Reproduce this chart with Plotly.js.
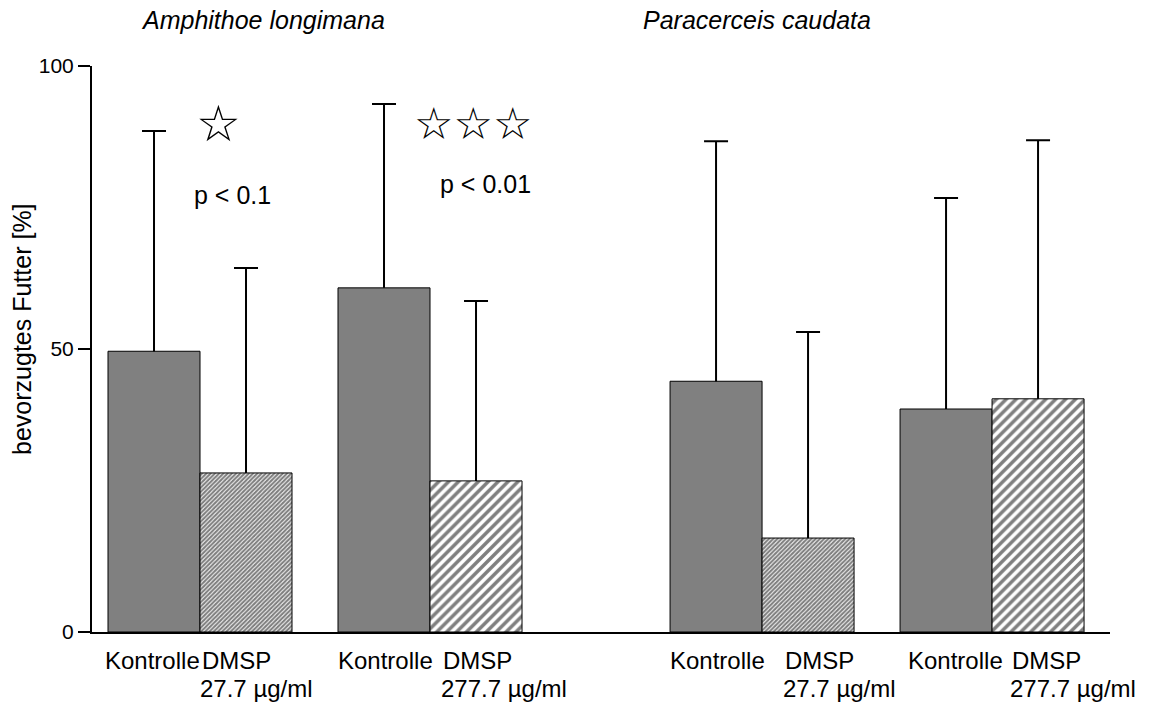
<!DOCTYPE html>
<html><head><meta charset="utf-8">
<script src="https://cdn.plot.ly/plotly-3.0.1.min.js"></script>
<style>body{margin:0;background:#fff}</style>
</head><body><div id="chart" style="width:1160px;height:704px"></div>
<script>
// ---- data ----
const species = ['Amphithoe longimana', 'Paracerceis caudata'];
const controlLabel = 'Kontrolle';
const treatmentLabel = 'DMSP';
const concentrations = ['27.7 µg/ml', '277.7 µg/ml', '27.7 µg/ml', '277.7 µg/ml'];
// order: Amphithoe 27.7, Amphithoe 277.7, Paracerceis 27.7, Paracerceis 277.7
const kontrolleMean  = [49.6, 60.8, 44.3, 39.4];
const kontrolleUpper = [88.5, 93.3, 86.7, 76.7];
const dmspMean       = [28.1, 26.7, 16.6, 41.2];
const dmspUpper      = [64.3, 58.5, 53.0, 86.9];
const stars    = ['☆', '☆☆☆', '', ''];
const pLabels  = ['p < 0.1', 'p < 0.01', '', ''];
const yTicks   = [0, 50, 100];
const yTitle   = 'bevorzugtes Futter [%]';

// ---- layout helpers ----
const pairCenters = [1.174, 3.674, 7.283, 9.783];
const kx = pairCenters.map(c => c - 0.5);
const dx = pairCenters.map(c => c + 0.5);
const lowIdx = [0, 2], highIdx = [1, 3];
const pick = (arr, idx) => idx.map(i => arr[i]);

const F = 'Liberation Sans, Arial, sans-serif';
const FS = 25, FX = 24;

// error bars drawn from 0 to the upper value, underneath the bars (bars sit on an overlaying axis)
const errTrace = (x, m, up) => ({
  type: 'scatter', mode: 'markers', x: x, y: m, yaxis: 'y', marker: { opacity: 0, size: 1 },
  error_y: { type: 'data', symmetric: false, array: up.map((u, i) => u - m[i]), arrayminus: m,
    color: '#000', thickness: 2, width: 12 }, hoverinfo: 'skip'
});

const barTrace = (x, y, pattern, color) => ({
  type: 'bar', x: x, y: y, width: 1, yaxis: 'y2',
  marker: Object.assign({ color: color, line: { color: '#000', width: 1 } }, pattern ? { pattern: pattern } : {}),
  hoverinfo: 'y'
});

const traces = [
  errTrace(kx, kontrolleMean, kontrolleUpper),
  errTrace(dx, dmspMean, dmspUpper),
  barTrace(kx, kontrolleMean, null, '#808080'),
  barTrace(pick(dx, lowIdx), pick(dmspMean, lowIdx),
    { shape: '/', size: 3, solidity: 0.7, fgcolor: '#000', bgcolor: '#fff', fillmode: 'overlay' }, '#fff'),
  barTrace(pick(dx, highIdx), pick(dmspMean, highIdx),
    { shape: '/', size: 7, solidity: 0.5, fgcolor: '#000', bgcolor: '#fff', fillmode: 'overlay' }, '#fff')
];

const ann = [];
const speciesX = [1.86, 7.23];
species.forEach((s, i) => ann.push({ text: s, x: speciesX[i], xref: 'x', y: 1.081, yref: 'paper',
  xanchor: 'center', yanchor: 'middle', showarrow: false, font: { family: F, size: FS, color: '#000', style: 'italic' } }));

const kShift = [-2, 1, 1, 9];
const dShift = [0, 11, 21, 18];
pairCenters.forEach((c, i) => {
  ann.push({ text: controlLabel, x: kx[i], xref: 'x', xshift: kShift[i], y: 0, yref: 'paper', yshift: -28,
    xanchor: 'center', yanchor: 'middle', showarrow: false, font: { family: F, size: FX, color: '#000' } });
  ann.push({ text: treatmentLabel, x: c, xref: 'x', xshift: dShift[i], y: 0, yref: 'paper', yshift: -28,
    xanchor: 'left', yanchor: 'middle', showarrow: false, font: { family: F, size: FX, color: '#000' } });
  ann.push({ text: concentrations[i], x: c, xref: 'x', xshift: dShift[i] - 2, y: 0, yref: 'paper', yshift: -56,
    xanchor: 'left', yanchor: 'middle', showarrow: false, font: { family: F, size: FX, color: '#000' } });
});

// significance stars
const starX = [1.38, 4.14], starY = [89.8, 89.8], starSize = [50, 44];
stars.forEach((s, i) => { if (s) ann.push({ text: s, x: starX[i], y: starY[i], xref: 'x', yref: 'y',
  showarrow: false, font: { family: 'DejaVu Sans', size: starSize[i], color: '#000' } }); });
const pX = [1.53, 4.28], pY = [77.2, 79.2];
pLabels.forEach((p, i) => { if (p) ann.push({ text: p, x: pX[i], y: pY[i], xref: 'x', yref: 'y',
  showarrow: false, font: { family: F, size: FS, color: '#000' } }); });

ann.push({ text: yTitle, x: -0.069, xref: 'paper', y: 0.535, yref: 'paper', textangle: -90,
  xanchor: 'center', yanchor: 'middle', showarrow: false, font: { family: F, size: FS, color: '#000' } });

const layout = {
  width: 1160, height: 704,
  margin: { l: 92, r: 50, t: 66, b: 72 },
  paper_bgcolor: '#fff', plot_bgcolor: '#fff',
  showlegend: false, barmode: 'overlay',
  font: { family: F, size: 21, color: '#000' },
  xaxis: { range: [0, 11.065], showline: true, linecolor: '#000', linewidth: 2,
    showgrid: false, zeroline: false, ticks: '', showticklabels: false, fixedrange: true },
  yaxis: { range: [0, 100], showline: true, linecolor: '#000', linewidth: 2,
    showgrid: false, zeroline: false, ticks: 'outside', ticklen: 12, tickwidth: 2, tickcolor: '#000',
    tickvals: yTicks, ticktext: yTicks.map(String), tickfont: { family: F, size: 21, color: '#000' } },
  yaxis2: { range: [0, 100], overlaying: 'y', visible: false, showgrid: false, zeroline: false },
  annotations: ann
};

Plotly.newPlot('chart', traces, layout, { displayModeBar: false, staticPlot: true });
</script>
</body></html>
